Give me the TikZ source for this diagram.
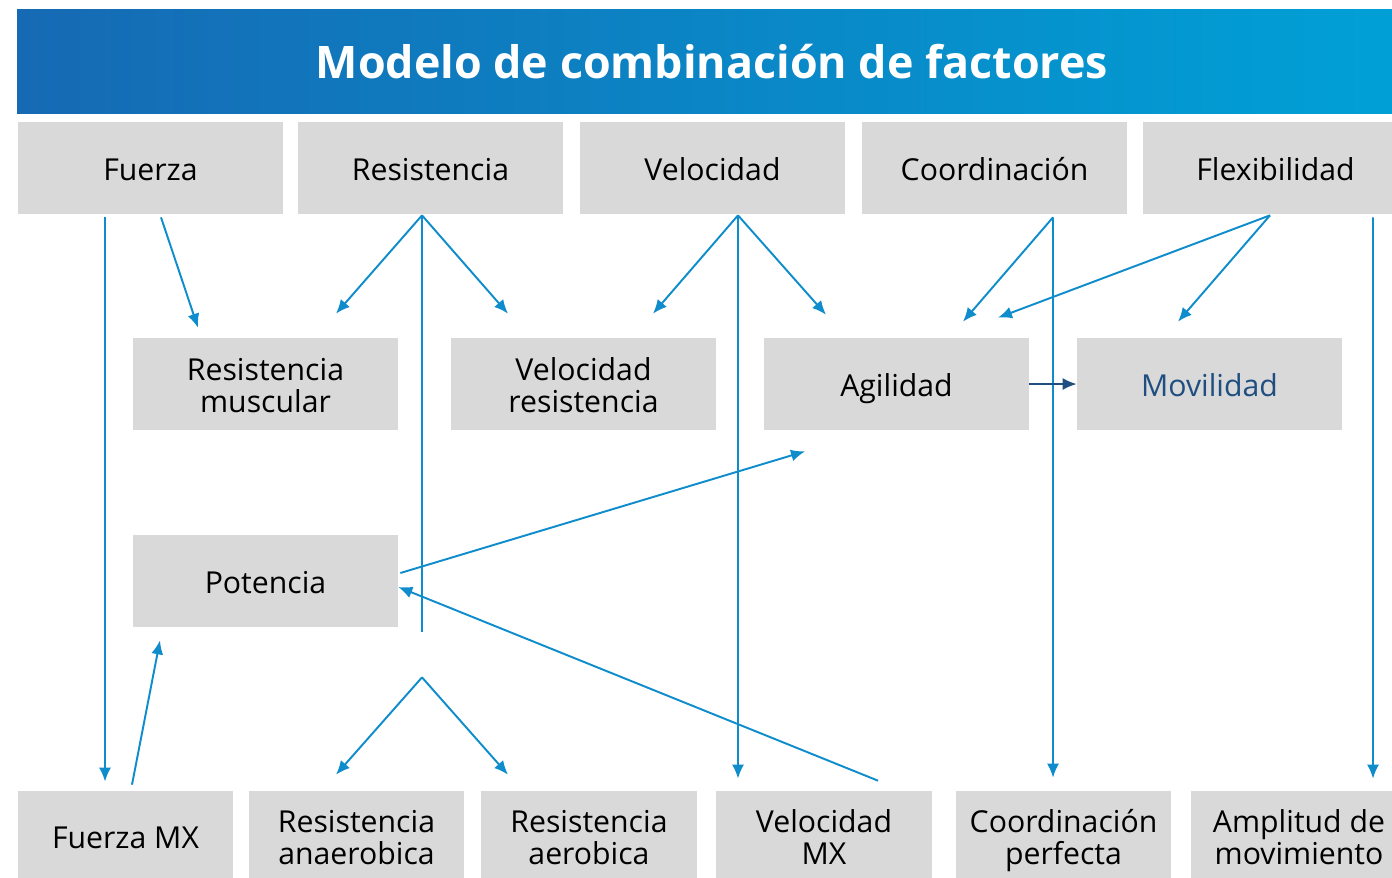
\documentclass[tikz,border=0pt]{standalone}
\usepackage{fontspec}
\setmainfont{Open Sans}
\usetikzlibrary{calc, positioning, arrows.meta}

\definecolor{boxgray}{RGB}{217,217,217}
\definecolor{linkblue}{RGB}{14,140,204}
\definecolor{navyblue}{RGB}{31,78,128}
\definecolor{bandleft}{RGB}{22,106,180}
\definecolor{bandright}{RGB}{0,160,214}

% texto de dos lineas
\newcommand{\twolines}[2]{\rule{0pt}{20pt}#1\\#2}

\begin{document}
\begin{tikzpicture}[x=0.02cm, y=-0.02cm, >={Latex[length=0.28cm, width=0.24cm]},
    factor/.style={fill=boxgray, minimum width=5.3cm, minimum height=1.84cm,
        inner sep=0pt, align=center, font=\fontsize{17.2}{18.5}\selectfont,
        execute at begin node={\rule{0pt}{19.5pt}},
        execute at end node={\rule[-5.7pt]{0pt}{0pt}}},
    result/.style={factor, minimum width=4.32cm, minimum height=1.8cm},
    link/.style={->, draw=linkblue, line width=1.1pt}]
    \useasboundingbox (0,0) rectangle (1392,877);

    % Cabecera
    \shade[left color=bandleft, right color=bandright] (17,9) rectangle (1392,113);
    \node[text=white, font=\fontsize{25.5}{30}\selectfont\bfseries] (title) at (712,62)
        {Modelo de combinación de factores};

    % Factores básicos
    \node[factor] (fuerza) at (150.5,168) {Fuerza};
    \node[factor] (res)    at (430.5,168) {Resistencia};
    \node[factor] (vel)    at (712.5,168) {Velocidad};
    \node[factor] (coord)  at (994.5,168) {Coordinación};
    \node[factor] (flex)   at (1275.5,168) {Flexibilidad};

    % Combinaciones
    \node[factor] (rmus) at (265.5,384) {\twolines{Resistencia}{muscular}};
    \node[factor] (vres) at (583.5,384) {\twolines{Velocidad}{resistencia}};
    \node[factor] (agi)  at (896.5,384) {Agilidad};
    \node[factor, text=navyblue] (mov) at (1209.5,384) {Movilidad};
    \node[factor] (pot)  at (265.5,581) {Potencia};

    % Resultados
    \node[result] (fmx)  at (125.5,836) {Fuerza MX};
    \node[result] (ran)  at (356.5,836) {\twolines{Resistencia}{anaerobica}};
    \node[result] (rae)  at (589,836)   {\twolines{Resistencia}{aerobica}};
    \node[result] (vmx)  at (824,836)   {\twolines{Velocidad}{MX}};
    \node[result] (cper) at (1063.5,836) {\twolines{Coordinación}{perfecta}};
    \node[result] (amp)  at (1299,836)  {\twolines{Amplitud de}{movimiento}};

    % Puntos de partida
    \coordinate (resTop) at ($(res.south)+(-8.5,1)$);
    \coordinate (resFork) at ($(resTop)+(0,462)$);
    \coordinate (velTop) at ($(vel.south)+(25.5,1)$);
    \coordinate (coTop)  at ($(coord.south)+(58.5,3)$);
    \coordinate (flTop)  at ($(flex.south)+(-5.5,1)$);

    % Fuerza
    \draw[link] ($(fuerza.south)+(-45.5,3)$) -- ($(fmx.north)+(-20.5,-9)$);
    \draw[link] ($(fuerza.south)+(10.5,3)$) -- ($(rmus.north)+(-67.5,-10)$);

    % Resistencia
    \draw[link] (resTop) -- ($(rmus.north)+(70.5,-24)$);
    \draw[link] (resTop) -- ($(vres.north)+(-75.5,-24)$);
    \draw[link, -] (resTop) -- ($(resTop)+(0,417)$);
    \draw[link] (resFork) -- ($(ran.north)+(-20.5,-16)$);
    \draw[link] (resFork) -- ($(rae.north)+(-81,-16)$);

    % Velocidad
    \draw[link] (velTop) -- ($(vres.north)+(69.5,-24)$);
    \draw[link] (velTop) -- ($(agi.north)+(-70.5,-23)$);
    \draw[link] (velTop) -- ($(vmx.north)+(-86,-12)$);

    % Coordinación
    \draw[link] (coTop) -- ($(agi.north)+(66.5,-16)$);
    \draw[link] (coTop) -- ($(cper.north)+(-10.5,-13)$);

    % Flexibilidad
    \draw[link] (flTop) -- ($(agi.north)+(101.5,-20)$);
    \draw[link] (flTop) -- ($(mov.north)+(-31.5,-16)$);
    \draw[link] ($(flex.south)+(97.5,3)$) -- ($(amp.north)+(74,-12)$);

    % Agilidad y Potencia
    \draw[link, draw=navyblue] (agi.east) -- (mov.west);
    \draw[link] ($(pot.east)+(2,-8)$) -- ($(agi.south)+(-91.5,21)$);
    \draw[link] ($(vmx.north)+(54,-10)$) -- ($(pot.east)+(0,6)$);
    \draw[link] ($(fmx.north)+(6.5,-6)$) -- ($(pot.south)+(-105.5,13)$);
\end{tikzpicture}
\end{document}
